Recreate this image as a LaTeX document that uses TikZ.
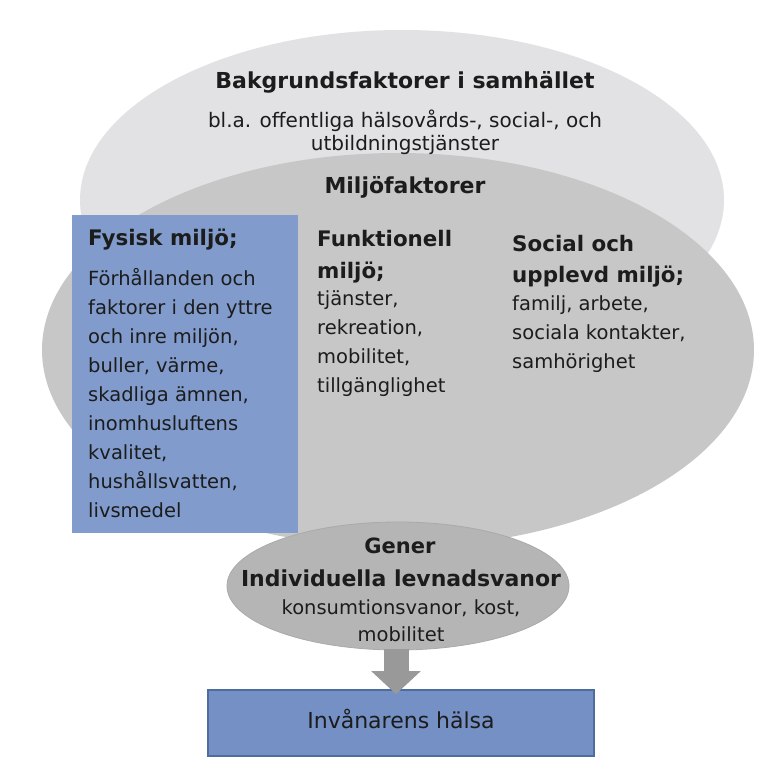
\documentclass[tikz,border=0pt]{standalone}
\usepackage{fontspec}
\setmainfont{DejaVu Sans}
\usetikzlibrary{shapes.geometric,arrows.meta,calc}
\definecolor{outerc}{RGB}{226,226,228}
\definecolor{midc}{RGB}{199,199,199}
\definecolor{bluec}{RGB}{128,155,204}
\definecolor{generc}{RGB}{181,181,181}
\definecolor{generb}{RGB}{170,170,170}
\definecolor{arrowc}{RGB}{153,153,153}
\definecolor{healthc}{RGB}{116,144,196}
\definecolor{healthb}{RGB}{79,108,158}
\definecolor{txtc}{RGB}{28,28,28}
\begin{document}
\begin{tikzpicture}[x=1pt,y=-1pt,
  txt/.style={inner sep=0pt, text=txtc},
  bodyl/.style={txt, font=\fontsize{19.5}{23}\selectfont, anchor=base west},
  headl/.style={txt, font=\fontsize{21.4}{25}\selectfont\bfseries, anchor=base west},
  topbold/.style={txt, font=\fontsize{22}{26}\selectfont\bfseries, anchor=base},
  topreg/.style={txt, font=\fontsize{20}{24}\selectfont, anchor=base},
  genbold/.style={txt, font=\fontsize{22}{26}\selectfont\bfseries, anchor=base},
  genreg/.style={txt, font=\fontsize{19.5}{23}\selectfont, anchor=base}]
\fill[white] (0,0) rectangle (764,758);
\useasboundingbox (0,0) rectangle (764,758);
% shapes
\node[ellipse, fill=outerc, minimum width=644pt, minimum height=340pt, inner sep=0pt] (outer) at (402,200) {};
\node[ellipse, fill=midc, minimum width=712pt, minimum height=394pt, inner sep=0pt] (mid) at (398,350) {};
\node[rectangle, fill=bluec, minimum width=226pt, minimum height=318pt, inner sep=0pt, anchor=north west] (fysbox) at (72,215) {};
\node[ellipse, fill=generc, draw=generb, line width=0.8pt, minimum width=342pt, minimum height=128pt, inner sep=0pt] (gener) at (398,586) {};
\node[rectangle, fill=healthc, draw=healthb, line width=1.6pt, minimum width=386pt, minimum height=66pt, inner sep=0pt] (health) at (401,723) {};
\coordinate (atop) at ($(gener.south)+(-2,-1)$);
\coordinate (abot) at ($(health.north -| atop)+(0,5)$);
\draw[arrowc, line width=25pt, -{Triangle[width=48pt,length=23pt]}] (atop) -- (abot);
% top texts
\node[topbold] (bak) at (405,88) {Bakgrundsfaktorer i samhället};
\node[topreg] (bak2) at (405,127) {bl.a. offentliga hälsovårds-, social-, och};
\node[topreg] (bak3) at (405,150) {utbildningstjänster};
\node[topbold] (milj) at (405,193) {Miljöfaktorer};
% Fysisk
\node[headl] (fysh) at (88,245) {Fysisk miljö;};
\node[bodyl] (f1) at (88,285) {Förhållanden och};
\node[bodyl] (f2) at (88,314) {faktorer i den yttre};
\node[bodyl] (f3) at (88,343) {och inre miljön,};
\node[bodyl] (f4) at (88,372) {buller, värme,};
\node[bodyl] (f5) at (88,401) {skadliga ämnen,};
\node[bodyl] (f6) at (88,430) {inomhusluftens};
\node[bodyl] (f7) at (88,459) {kvalitet,};
\node[bodyl] (f8) at (88,488) {hushållsvatten,};
\node[bodyl] (f9) at (88,517) {livsmedel};
% Funktionell
\node[headl] (funh1) at (317,246) {Funktionell};
\node[headl] (funh2) at (317,278) {miljö;};
\node[bodyl] (fu1) at (317,305) {tjänster,};
\node[bodyl] (fu2) at (317,334) {rekreation,};
\node[bodyl] (fu3) at (317,363) {mobilitet,};
\node[bodyl] (fu4) at (317,392) {tillgänglighet};
% Social
\node[headl] (soh1) at (512,251) {Social och};
\node[headl] (soh2) at (512,282) {upplevd miljö;};
\node[bodyl] (so1) at (512,310) {familj, arbete,};
\node[bodyl] (so2) at (512,339) {sociala kontakter,};
\node[bodyl] (so3) at (512,368) {samhörighet};
% Gener
\node[genbold, font=\fontsize{21}{25}\selectfont\bfseries] (g1) at (400,553) {Gener};
\node[genbold] (g2) at (401,586) {Individuella levnadsvanor};
\node[genreg] (g3) at (401,614) {konsumtionsvanor, kost,};
\node[genreg] (g4) at (401,641) {mobilitet};
% health
\node[txt, font=\fontsize{22}{26}\selectfont, anchor=base] (htxt) at (401,728) {Invånarens hälsa};
\end{tikzpicture}
\end{document}
